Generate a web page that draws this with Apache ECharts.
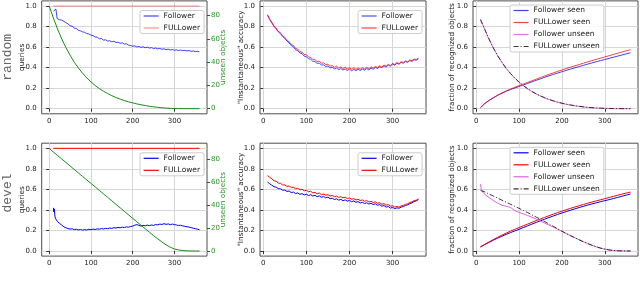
<!DOCTYPE html>
<html><head><meta charset="utf-8">
<script src="https://cdn.jsdelivr.net/npm/echarts@6/dist/echarts.min.js"></script>
<style>html,body{margin:0;padding:0;background:#fff}#c{width:640px;height:282px}</style>
</head><body><div id="c"></div>
<script>
// ---------- data ----------
const X5 = [10,15,20,25,30,35,40,45,50,55,60,65,70,75,80,85,90,95,100,105,110,115,120,125,130,135,140,145,150,155,160,165,170,175,180,185,190,195,200,205,210,215,220,225,230,235,240,245,250,255,260,265,270,275,280,285,290,295,300,305,310,315,320,325,330,335,340,345,350,355,360];
const X10 = [10,20,30,40,50,60,70,80,90,100,110,120,130,140,150,160,170,180,190,200,210,220,230,240,250,260,270,280,290,300,310,320,330,340,350,360];
const XG = [0,10,20,30,40,50,60,70,80,90,100,110,120,130,140,150,160,170,180,190,200,210,220,230,240,250,260,270,280,290,300,310,320,330,340,350,360];

// random: queries
const xQueriesRandom = [10,13,16,18,19,22,25,30,35,40,45,50,55,60,65,70,75,80,85,90,95,100,105,110,115,120,125,130,135,140,145,150,155,160,165,170,175,180,185,190,195,200,205,210,215,220,225,230,235,240,245,250,255,260,265,270,275,280,285,290,295,300,305,310,315,320,325,330,335,340,345,350,355,360];
const followerQueriesRandom = [0.950,0.958,0.970,0.975,0.878,0.872,0.866,0.862,0.851,0.838,0.826,0.808,0.803,0.786,0.781,0.764,0.758,0.748,0.744,0.731,0.728,0.716,0.712,0.699,0.697,0.681,0.684,0.668,0.671,0.659,0.662,0.651,0.657,0.645,0.648,0.636,0.642,0.628,0.633,0.619,0.616,0.609,0.612,0.601,0.606,0.597,0.603,0.594,0.599,0.590,0.595,0.586,0.591,0.583,0.587,0.579,0.583,0.575,0.579,0.572,0.576,0.569,0.573,0.566,0.571,0.565,0.568,0.562,0.566,0.559,0.562,0.556,0.559,0.554];
const xFullQueries = [10,360];
const fullQueriesRandom = [1.0,1.0];
const unseenObjectsRandom = [88.3,78,68.5,60,52.5,46,40,35,30.5,26.5,23,20,17.3,15,13,11.2,9.6,8.2,7,5.9,5,4.1,3.4,2.7,2.1,1.6,1.2,0.8,0.5,0.3,0.15,0.08,0.04,0.02,0,0,0];

// devel: queries
const xQueriesDevel = [10,11,12,14,16,18,20,25,30,35,40,45,50,55,60,65,70,75,80,85,90,95,100,105,110,115,120,125,130,135,140,145,150,155,160,165,170,175,180,185,190,195,200,205,210,215,220,225,230,235,240,245,250,255,260,265,270,275,280,285,290,295,300,305,310,315,320,325,330,335,340,345,350,355,360];
const followerQueriesDevel = [0.42,0.38,0.41,0.33,0.31,0.295,0.285,0.268,0.252,0.236,0.226,0.218,0.213,0.216,0.208,0.212,0.205,0.209,0.203,0.208,0.204,0.211,0.207,0.213,0.209,0.215,0.212,0.218,0.214,0.221,0.217,0.224,0.220,0.227,0.223,0.230,0.226,0.232,0.228,0.235,0.231,0.238,0.242,0.251,0.257,0.249,0.243,0.249,0.245,0.252,0.247,0.253,0.249,0.257,0.254,0.262,0.258,0.266,0.259,0.264,0.256,0.262,0.257,0.253,0.248,0.251,0.244,0.240,0.236,0.233,0.227,0.222,0.217,0.212,0.207];
const fullQueriesDevel = [1.0,1.0];
const unseenObjectsDevel = [89.5,86.4,83.4,80.3,77.3,74.2,71.2,68.1,65.1,62,59,56,52.9,49.9,46.8,43.8,40.7,37.7,34.6,31.6,28.5,25.5,22.4,19.4,16.4,13.4,10.6,7.9,5.4,3.3,1.8,0.9,0.4,0.15,0.05,0,0];

// random: instantaneous accuracy (X5)
const followerAccRandom = [0.910,0.868,0.835,0.800,0.778,0.748,0.730,0.703,0.684,0.659,0.640,0.615,0.603,0.574,0.566,0.542,0.536,0.512,0.507,0.486,0.481,0.462,0.458,0.441,0.444,0.425,0.428,0.410,0.416,0.398,0.404,0.387,0.396,0.380,0.391,0.376,0.388,0.372,0.385,0.369,0.382,0.370,0.384,0.372,0.386,0.375,0.390,0.378,0.395,0.384,0.401,0.392,0.408,0.399,0.416,0.406,0.424,0.414,0.434,0.424,0.442,0.433,0.451,0.443,0.459,0.452,0.467,0.462,0.476,0.472,0.485];
const fullAccRandom = [0.915,0.872,0.842,0.806,0.786,0.752,0.741,0.708,0.696,0.664,0.652,0.624,0.616,0.586,0.581,0.556,0.551,0.528,0.526,0.503,0.500,0.479,0.477,0.459,0.462,0.443,0.447,0.428,0.433,0.414,0.420,0.403,0.414,0.396,0.407,0.391,0.403,0.388,0.399,0.384,0.398,0.383,0.397,0.385,0.399,0.387,0.402,0.390,0.407,0.395,0.412,0.401,0.418,0.407,0.425,0.414,0.432,0.421,0.442,0.430,0.450,0.439,0.458,0.449,0.466,0.457,0.474,0.468,0.484,0.479,0.493];

// devel: instantaneous accuracy (X5)
const followerAccDevel = [0.672,0.655,0.641,0.626,0.621,0.607,0.606,0.592,0.594,0.580,0.584,0.569,0.574,0.559,0.566,0.552,0.559,0.546,0.553,0.540,0.548,0.535,0.542,0.529,0.537,0.523,0.531,0.517,0.525,0.509,0.514,0.501,0.508,0.495,0.503,0.490,0.498,0.485,0.493,0.480,0.488,0.474,0.481,0.467,0.474,0.462,0.470,0.457,0.465,0.452,0.460,0.445,0.452,0.436,0.443,0.427,0.433,0.418,0.424,0.412,0.420,0.416,0.428,0.432,0.444,0.449,0.462,0.468,0.482,0.488,0.500];
const fullAccDevel = [0.735,0.718,0.703,0.684,0.679,0.662,0.659,0.644,0.643,0.630,0.633,0.619,0.620,0.606,0.610,0.596,0.601,0.586,0.591,0.577,0.582,0.566,0.571,0.557,0.565,0.548,0.555,0.543,0.549,0.535,0.541,0.528,0.535,0.522,0.529,0.518,0.524,0.510,0.516,0.503,0.510,0.497,0.504,0.490,0.497,0.484,0.491,0.478,0.484,0.472,0.479,0.464,0.470,0.455,0.461,0.446,0.451,0.437,0.440,0.428,0.433,0.427,0.440,0.443,0.455,0.459,0.473,0.478,0.491,0.495,0.508];

// random: fraction of recognized objects (X10)
const followerSeenRandom = [0.010,0.050,0.080,0.105,0.130,0.150,0.170,0.186,0.201,0.216,0.231,0.246,0.261,0.276,0.291,0.306,0.320,0.334,0.347,0.360,0.373,0.386,0.398,0.410,0.422,0.434,0.446,0.457,0.468,0.479,0.490,0.501,0.512,0.523,0.534,0.545];
const fullSeenRandom = [0.010,0.050,0.081,0.107,0.132,0.153,0.173,0.191,0.208,0.224,0.240,0.256,0.272,0.288,0.304,0.319,0.334,0.349,0.363,0.377,0.391,0.404,0.417,0.430,0.443,0.456,0.468,0.480,0.492,0.504,0.516,0.528,0.540,0.552,0.564,0.575];
const followerUnseenRandom = [0.870,0.770,0.675,0.590,0.515,0.450,0.392,0.342,0.298,0.258,0.224,0.193,0.167,0.144,0.123,0.105,0.089,0.075,0.063,0.052,0.043,0.035,0.028,0.022,0.017,0.013,0.009,0.006,0.004,0.003,0.002,0.001,0.000,0.000,0.000,0.000];
const fullUnseenRandom = [0.868,0.772,0.678,0.592,0.517,0.451,0.393,0.343,0.298,0.259,0.225,0.194,0.168,0.145,0.124,0.106,0.090,0.076,0.064,0.053,0.044,0.036,0.029,0.023,0.018,0.013,0.010,0.007,0.005,0.003,0.002,0.001,0.001,0.000,0.000,0.000];

// devel: fraction of recognized objects
const followerSeenDevel = [0.040,0.062,0.084,0.105,0.125,0.144,0.162,0.179,0.195,0.211,0.228,0.245,0.262,0.278,0.294,0.310,0.326,0.341,0.356,0.370,0.384,0.397,0.410,0.423,0.435,0.447,0.458,0.469,0.480,0.490,0.500,0.511,0.522,0.533,0.544,0.555];
const fullSeenDevel = [0.040,0.064,0.088,0.111,0.133,0.154,0.174,0.193,0.211,0.228,0.245,0.262,0.279,0.296,0.312,0.328,0.344,0.359,0.374,0.388,0.402,0.415,0.428,0.441,0.453,0.465,0.477,0.488,0.499,0.510,0.521,0.532,0.543,0.554,0.564,0.574];
const xUnseenDevel = [10,12,15,20,30,40,50,60,70,80,90,100,110,120,130,140,150,160,170,180,190,200,210,220,230,240,250,260,270,280,290,300,310,320,330,340,350,360];
const followerUnseenDevel = [0.650,0.600,0.575,0.552,0.520,0.492,0.466,0.445,0.436,0.424,0.392,0.376,0.362,0.346,0.328,0.310,0.291,0.271,0.252,0.232,0.212,0.191,0.170,0.149,0.129,0.109,0.090,0.072,0.056,0.041,0.028,0.018,0.010,0.005,0.002,0.001,0.000,0.000];
const fullUnseenDevel = [0.590,0.575,0.555,0.535,0.515,0.495,0.475,0.455,0.435,0.415,0.395,0.374,0.352,0.330,0.308,0.286,0.263,0.240,0.216,0.193,0.170,0.149,0.129,0.109,0.090,0.072,0.056,0.041,0.028,0.018,0.010,0.005,0.002,0.001,0.000,0.000];

// ---------- chart ----------
const pairs = (xs, ys) => xs.map((x, i) => [x, ys[i]]);
const FONT = 'DejaVu Sans';
const BLUE = '#0000ff', RED = '#ff0000', MAG = '#e060e0', GREEN = '#008000', GTXT = '#2a922a';

const rowTop = [0.9, 143.2], rowH = 112.9;
const cols = [{left: 41.7, width: 165.3, min: -18, max: 378}, {left: 260, width: 166, min: -7.5, max: 377.5}, {left: 473, width: 165, min: -7.5, max: 377.5}];
const grids = [], xAxes = [], yAxes = [];
for (let r = 0; r < 2; r++) for (let c = 0; c < 3; c++) {
  const i = r * 3 + c;
  grids.push({left: cols[c].left, top: rowTop[r], width: cols[c].width, height: rowH, show: true, borderColor: '#4d4d4d', borderWidth: 1, backgroundColor: 'transparent'});
  xAxes.push({type: 'value', gridIndex: i, min: cols[c].min, max: cols[c].max, splitNumber: 5,
    axisLine: {show: false}, axisTick: {show: true, length: 3, lineStyle: {color: '#333'}},
    axisLabel: {fontSize: 7, color: '#222', fontFamily: FONT, margin: 4, showMinLabel: false, showMaxLabel: false},
    splitLine: {show: true, showMinLine: false, showMaxLine: false, lineStyle: {color: '#d6d6d6', width: 1}}});
  yAxes.push({type: 'value', gridIndex: i, min: -0.05, max: 1.05, splitNumber: 5,
    axisLine: {show: false}, axisTick: {show: true, length: 3, lineStyle: {color: '#333'}},
    axisLabel: {fontSize: 7, color: '#222', fontFamily: FONT, margin: 5, showMinLabel: false, showMaxLabel: false, formatter: v => v.toFixed(1)},
    splitLine: {show: true, showMinLine: false, showMaxLine: false, lineStyle: {color: '#d6d6d6', width: 1}}});
}
const greenRanges = [[-4.4, 92.7], [-4.45, 94.1]];
[0, 3].forEach((g, k) => {
  yAxes.push({type: 'value', gridIndex: g, position: 'right', min: greenRanges[k][0], max: greenRanges[k][1], splitNumber: 5,
    axisLine: {show: false}, axisTick: {show: true, length: 3, lineStyle: {color: GREEN}},
    axisLabel: {fontSize: 7, color: GTXT, fontFamily: FONT, margin: 4, showMinLabel: false, showMaxLabel: false},
    splitLine: {show: false}});
});

function line(name, gi, yi, data, color, opacity, extra) {
  return Object.assign({type: 'line', name, xAxisIndex: gi, yAxisIndex: yi, data, symbol: 'none', showSymbol: false,
    lineStyle: {color, width: 1, opacity}, itemStyle: {color, opacity}, emphasis: {disabled: true}, z: 3}, extra || {});
}
const DASHDOT = {lineStyle: {color: '#222', width: 1, opacity: 0.9, type: [5, 2, 1, 2]}};

const series = [
  line('Follower#1', 0, 0, pairs(xQueriesRandom, followerQueriesRandom), BLUE, 0.75),
  line('FULLower#1', 0, 0, pairs(xFullQueries, fullQueriesRandom), RED, 0.45),
  line('unseen#1', 0, 6, pairs(XG, unseenObjectsRandom), GREEN, 0.9, {z: 4}),
  line('Follower#2', 1, 1, pairs(X5, followerAccRandom), BLUE, 0.7),
  line('FULLower#2', 1, 1, pairs(X5, fullAccRandom), RED, 0.75),
  line('Follower seen#3', 2, 2, pairs(X10, followerSeenRandom), BLUE, 0.75),
  line('FULLower seen#3', 2, 2, pairs(X10, fullSeenRandom), RED, 0.75),
  line('Follower unseen#3', 2, 2, pairs(X10, followerUnseenRandom), MAG, 0.9),
  Object.assign(line('FULLower unseen#3', 2, 2, pairs(X10, fullUnseenRandom), '#222', 0.9), DASHDOT),
  line('Follower#4', 3, 3, pairs(xQueriesDevel, followerQueriesDevel), BLUE, 1),
  line('FULLower#4', 3, 3, pairs(xFullQueries, fullQueriesDevel), RED, 1),
  line('unseen#4', 3, 7, pairs(XG, unseenObjectsDevel), GREEN, 0.9, {z: 4}),
  line('Follower#5', 4, 4, pairs(X5, followerAccDevel), BLUE, 1),
  line('FULLower#5', 4, 4, pairs(X5, fullAccDevel), RED, 1),
  line('Follower seen#6', 5, 5, pairs(X10, followerSeenDevel), BLUE, 1),
  line('FULLower seen#6', 5, 5, pairs(X10, fullSeenDevel), RED, 1),
  line('Follower unseen#6', 5, 5, pairs(xUnseenDevel, followerUnseenDevel), MAG, 1),
  Object.assign(line('FULLower unseen#6', 5, 5, pairs(X10, fullUnseenDevel), '#222', 0.9), DASHDOT)
];

function legend(names, left, top, itemH) {
  return {data: names, left, top, orient: 'vertical', itemWidth: 15, itemHeight: itemH, itemGap: 4,
    padding: [1.5, 4, 1.5, 3], backgroundColor: 'rgba(255,255,255,0.85)', borderColor: '#cccccc', borderWidth: 1, borderRadius: 2,
    selectedMode: false, itemStyle: {opacity: 0, borderWidth: 0}, lineStyle: {width: 1.2},
    textStyle: {fontSize: 7.5, color: '#222', fontFamily: FONT, padding: [0, 0, 0, 0]},
    formatter: n => n.split('#')[0]};
}
const legends = [
  legend(['Follower#1', 'FULLower#1'], 140, 10.5, 8),
  legend(['Follower#2', 'FULLower#2'], 358, 10.5, 8),
  legend(['Follower seen#3', 'FULLower seen#3', 'Follower unseen#3', 'FULLower unseen#3'], 510, 5, 7),
  legend(['Follower#4', 'FULLower#4'], 140, 152.8, 8),
  legend(['Follower#5', 'FULLower#5'], 358, 152.8, 8),
  legend(['Follower seen#6', 'FULLower seen#6', 'Follower unseen#6', 'FULLower unseen#6'], 510, 147.3, 7)
];

function vtext(text, x, y, size, color, family) {
  return {type: 'text', x, y, rotation: Math.PI / 2, silent: true,
    style: {text, fill: color, font: size + 'px "' + family + '"', textAlign: 'center', textVerticalAlign: 'middle'}};
}
const midY = [rowTop[0] + rowH / 2, rowTop[1] + rowH / 2];
const graphics = [
  vtext('random', 8, midY[0], 13, '#666', 'Liberation Mono'),
  vtext('devel', 8, 193, 13, '#666', 'Liberation Mono'),
  vtext('queries', 22, midY[0], 7.3, '#222', FONT),
  vtext('queries', 22, midY[1], 7.3, '#222', FONT),
  vtext('unseen objects', 223.5, midY[0], 7.3, GTXT, FONT),
  vtext('unseen objects', 223.5, midY[1], 7.3, GTXT, FONT),
  vtext('"Instantaneous" accuracy', 241, midY[0], 7.3, '#222', FONT),
  vtext('"Instantaneous" accuracy', 241, midY[1], 7.3, '#222', FONT),
  vtext('fraction of recognized objects', 452.5, midY[0], 7.3, '#222', FONT),
  vtext('fraction of recognized objects', 452.5, midY[1], 7.3, '#222', FONT)
];

const chart = echarts.init(document.getElementById('c'), null, {renderer: 'canvas'});
chart.setOption({animation: false, backgroundColor: '#fff', textStyle: {fontFamily: FONT},
  grid: grids, xAxis: xAxes, yAxis: yAxes, series, legend: legends, graphic: graphics});
</script>
</body></html>
